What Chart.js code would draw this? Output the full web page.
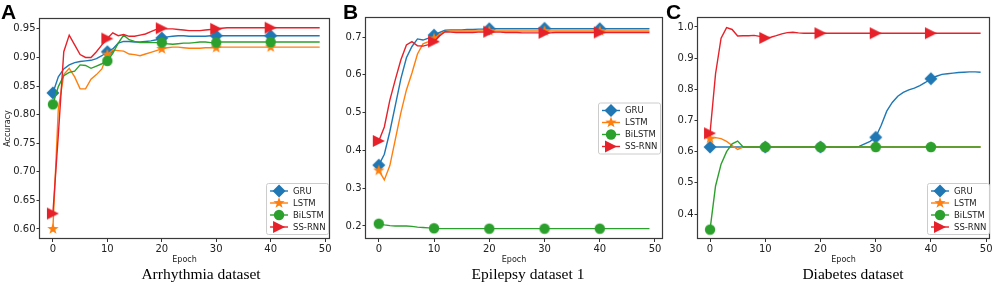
<!DOCTYPE html>
<html><head><meta charset="utf-8">
<script src="https://cdn.jsdelivr.net/npm/chart.js@4.4.0/dist/chart.umd.min.js"></script>
<style>
html,body{margin:0;padding:0;background:#fff;width:996px;height:286px;overflow:hidden;position:relative;}
.panel{position:absolute;top:0;}
canvas{display:block;}
.letter{position:absolute;top:1px;font:bold 21px/21px "Liberation Sans",Arial,sans-serif;color:#000;}
.dtitle{position:absolute;top:266px;font:15.5px/16px "Liberation Serif","Times New Roman",serif;color:#000;white-space:nowrap;transform:translateX(-50%);}
</style></head><body>
<div class="panel" style="left:0px"><canvas id="cA" width="333" height="270"></canvas></div>
<div class="panel" style="left:335px"><canvas id="cB" width="335" height="270"></canvas></div>
<div class="panel" style="left:665px"><canvas id="cC" width="331" height="270"></canvas></div>
<div class="letter" style="left:1px">A</div>
<div class="letter" style="left:343px">B</div>
<div class="letter" style="left:666px">C</div>
<div class="dtitle" id="tA" style="left:201px"></div>
<div class="dtitle" id="tB" style="left:528px"></div>
<div class="dtitle" id="tC" style="left:853px"></div>
<script>
// ---------- data ----------
const epochs = [0,1,2,3,4,5,6,7,8,9,10,11,12,13,14,15,16,17,18,19,20,21,22,23,24,25,26,27,28,29,30,31,32,33,34,35,36,37,38,39,40,41,42,43,44,45,46,47,48,49];
const seriesNames = ['GRU','LSTM','BiLSTM','SS-RNN'];
const panelTitles = ['Arrhythmia dataset','Epilepsy dataset 1','Diabetes dataset'];
const xTicks = [0,10,20,30,40,50];
const yTicksA = [0.60,0.65,0.70,0.75,0.80,0.85,0.90,0.95];
const yTicksB = [0.2,0.3,0.4,0.5,0.6,0.7];
const yTicksC = [0.4,0.5,0.6,0.7,0.8,0.9,1.0];

// Panel A - Arrhythmia
const gruA = [0.838,0.866,0.880,0.887,0.891,0.893,0.894,0.895,0.898,0.903,
  0.910,0.915,0.925,0.928,0.928,0.927,0.927,0.928,0.929,0.931,
  0.934,0.936,0.937,0.938,0.938,0.937,0.937,0.937,0.937,0.938,
  0.938,0.938,0.938,0.938,0.938,0.938,0.938,0.938,0.938,0.938,
  0.938,0.938,0.938,0.938,0.938,0.938,0.938,0.938,0.938,0.938];
const lstmA = [0.600,0.810,0.870,0.881,0.866,0.845,0.845,0.862,0.870,0.880,
  0.905,0.913,0.912,0.911,0.906,0.905,0.903,0.906,0.909,0.912,
  0.915,0.917,0.918,0.918,0.917,0.916,0.916,0.916,0.917,0.917,
  0.917,0.918,0.918,0.918,0.918,0.918,0.918,0.918,0.918,0.918,
  0.918,0.918,0.918,0.918,0.918,0.918,0.918,0.918,0.918,0.918];
const bilstmA = [0.818,0.849,0.868,0.874,0.876,0.887,0.886,0.881,0.885,0.889,
  0.894,0.907,0.925,0.939,0.931,0.928,0.926,0.926,0.926,0.926,
  0.926,0.924,0.923,0.924,0.925,0.925,0.926,0.927,0.927,0.926,
  0.926,0.927,0.927,0.927,0.927,0.927,0.927,0.927,0.927,0.927,
  0.927,0.927,0.927,0.927,0.927,0.927,0.927,0.927,0.927,0.927];
const ssrnnA = [0.627,0.765,0.910,0.939,0.922,0.905,0.900,0.900,0.910,0.922,
  0.933,0.943,0.938,0.940,0.937,0.937,0.939,0.941,0.945,0.949,
  0.951,0.950,0.950,0.949,0.948,0.947,0.947,0.947,0.948,0.949,
  0.950,0.951,0.952,0.952,0.952,0.952,0.952,0.952,0.952,0.952,
  0.952,0.952,0.952,0.952,0.952,0.952,0.952,0.952,0.952,0.952];

// Panel B - Epilepsy 1
const gruB = [0.361,0.390,0.450,0.520,0.590,0.645,0.675,0.695,0.692,0.697,
  0.705,0.712,0.718,0.719,0.719,0.719,0.720,0.720,0.721,0.721,
  0.722,0.722,0.722,0.722,0.722,0.722,0.722,0.722,0.722,0.722,
  0.723,0.722,0.722,0.722,0.722,0.722,0.722,0.722,0.722,0.722,
  0.722,0.722,0.722,0.722,0.722,0.722,0.722,0.722,0.722,0.722];
const lstmB = [0.347,0.322,0.360,0.430,0.500,0.560,0.605,0.655,0.682,0.688,
  0.696,0.708,0.715,0.716,0.716,0.716,0.716,0.716,0.716,0.716,
  0.716,0.716,0.716,0.716,0.716,0.716,0.716,0.716,0.716,0.716,
  0.716,0.716,0.716,0.716,0.716,0.716,0.716,0.716,0.716,0.716,
  0.716,0.716,0.716,0.716,0.716,0.716,0.716,0.716,0.716,0.716];
const bilstmB = [0.206,0.203,0.201,0.200,0.200,0.200,0.199,0.197,0.196,0.195,
  0.194,0.193,0.193,0.193,0.193,0.193,0.193,0.193,0.193,0.193,
  0.193,0.193,0.193,0.193,0.193,0.193,0.193,0.193,0.193,0.193,
  0.193,0.193,0.193,0.193,0.193,0.193,0.193,0.193,0.193,0.193,
  0.193,0.193,0.193,0.193,0.193,0.193,0.193,0.193,0.193,0.193];
const ssrnnB = [0.425,0.462,0.533,0.588,0.640,0.679,0.688,0.677,0.676,0.680,
  0.688,0.703,0.714,0.713,0.712,0.712,0.712,0.712,0.713,0.713,
  0.714,0.713,0.713,0.712,0.712,0.712,0.711,0.711,0.711,0.711,
  0.711,0.711,0.712,0.712,0.712,0.712,0.712,0.712,0.712,0.712,
  0.712,0.712,0.712,0.712,0.712,0.712,0.712,0.712,0.712,0.712];

// Panel C - Diabetes
const gruC = [0.615,0.615,0.615,0.615,0.615,0.615,0.615,0.615,0.615,0.615,
  0.615,0.615,0.615,0.615,0.615,0.615,0.615,0.615,0.615,0.615,
  0.615,0.615,0.615,0.614,0.614,0.614,0.615,0.617,0.625,0.633,
  0.646,0.685,0.730,0.758,0.778,0.790,0.798,0.804,0.812,0.822,
  0.834,0.842,0.848,0.850,0.852,0.854,0.855,0.856,0.856,0.855];
const lstmC = [0.642,0.645,0.642,0.633,0.620,0.607,0.615,0.615,0.615,0.615,
  0.615,0.615,0.615,0.615,0.615,0.615,0.615,0.615,0.615,0.615,
  0.615,0.615,0.615,0.615,0.615,0.615,0.615,0.615,0.615,0.615,
  0.615,0.615,0.615,0.615,0.615,0.615,0.615,0.615,0.615,0.615,
  0.615,0.615,0.615,0.615,0.615,0.615,0.615,0.615,0.615,0.615];
const bilstmC = [0.350,0.490,0.560,0.600,0.625,0.634,0.615,0.615,0.615,0.615,
  0.615,0.615,0.615,0.615,0.615,0.615,0.615,0.615,0.615,0.615,
  0.615,0.615,0.615,0.615,0.615,0.615,0.615,0.615,0.615,0.615,
  0.615,0.615,0.615,0.615,0.615,0.615,0.615,0.615,0.615,0.615,
  0.615,0.615,0.615,0.615,0.615,0.615,0.615,0.615,0.615,0.615];
const ssrnnC = [0.659,0.850,0.964,0.998,0.992,0.971,0.972,0.972,0.973,0.970,
  0.965,0.967,0.972,0.978,0.982,0.983,0.981,0.980,0.980,0.980,
  0.980,0.980,0.980,0.980,0.980,0.980,0.980,0.980,0.980,0.980,
  0.980,0.980,0.980,0.980,0.980,0.980,0.980,0.980,0.980,0.980,
  0.980,0.980,0.980,0.980,0.980,0.980,0.980,0.980,0.980,0.980];

// ---------- styles ----------
const colors = ['#1f77b4','#ff7f0e','#2ca02c','#e62129'];
const markerKinds = ['diamond','star','circle','tri'];
const markerSizes = [6.5,6,5.2,6];

function drawMarker(g, kind, x, y, s, color) {
  g.fillStyle = color;
  g.beginPath();
  if (kind === 'diamond') { g.moveTo(x, y - s); g.lineTo(x + s, y); g.lineTo(x, y + s); g.lineTo(x - s, y); }
  else if (kind === 'circle') { g.arc(x, y, s, 0, Math.PI * 2); }
  else if (kind === 'tri') { g.moveTo(x + s, y); g.lineTo(x - s, y - s); g.lineTo(x - s, y + s); }
  else if (kind === 'star') {
    for (let k = 0; k < 10; k++) {
      const r = (k % 2) ? s * 0.40 : s;
      const a = -Math.PI / 2 + k * Math.PI / 5;
      const px = x + r * Math.cos(a), py = y + r * Math.sin(a);
      if (k) g.lineTo(px, py); else g.moveTo(px, py);
    }
  }
  g.closePath(); g.fill();
}
function markerCanvas(kind, s, color) {
  const size = Math.ceil(s) * 2 + 4;
  const c = document.createElement('canvas'); c.width = size; c.height = size;
  drawMarker(c.getContext('2d'), kind, size / 2, size / 2, s, color);
  return c;
}
const markerImgs = markerKinds.map((k, i) => markerCanvas(k, markerSizes[i], colors[i]));

const framePlugin = {
  id: 'frame',
  afterDatasetsDraw(chart) {
    const {ctx, chartArea: a} = chart;
    ctx.save();
    ctx.strokeStyle = '#3a3a3a'; ctx.lineWidth = 1.2;
    ctx.strokeRect(Math.round(a.left) + 0.5, Math.round(a.top) + 0.5, Math.round(a.right - a.left) - 1, Math.round(a.bottom - a.top) - 1);
    ctx.restore();
  }
};
const legendPlugin = {
  id: 'mplLegend',
  afterDatasetsDraw(chart, args, opts) {
    const {ctx, chartArea: a} = chart;
    const w = 62, h = 51;
    const x = a.right - w - opts.mr;
    const y = opts.loc === 'center' ? (a.top + a.bottom) / 2 - h / 2 : a.bottom - h - opts.mb;
    ctx.save();
    ctx.fillStyle = 'rgba(255,255,255,0.85)';
    ctx.strokeStyle = '#cccccc'; ctx.lineWidth = 1;
    ctx.beginPath();
    if (ctx.roundRect) ctx.roundRect(x + 0.5, y + 0.5, w, h, 2); else ctx.rect(x + 0.5, y + 0.5, w, h);
    ctx.fill(); ctx.stroke();
    ctx.font = '8.5px "DejaVu Sans", sans-serif';
    ctx.textBaseline = 'middle'; ctx.textAlign = 'left';
    chart.data.datasets.forEach((ds, i) => {
      const cy = y + 8 + i * 12;
      ctx.strokeStyle = colors[i]; ctx.lineWidth = 1.4;
      ctx.beginPath(); ctx.moveTo(x + 4, cy); ctx.lineTo(x + 22, cy); ctx.stroke();
      drawMarker(ctx, markerKinds[i], x + 13, cy, markerSizes[i], colors[i]);
      ctx.fillStyle = '#222';
      ctx.fillText(seriesNames[i], x + 27, cy + 0.5);
    });
    ctx.restore();
  }
};

function makePanel(id, series, yTicks, yMin, yMax, xMin, xMax, dec, yTitle, legendOpts, pad, yWidth) {
  const datasets = series.map((vals, i) => ({
    label: seriesNames[i],
    data: vals.map((v, k) => ({x: epochs[k], y: v})),
    borderColor: colors[i],
    backgroundColor: colors[i],
    borderWidth: 1.4,
    tension: 0,
    fill: false,
    order: 3 - i,
    pointStyle: markerImgs[i],
    pointRadius: c => (epochs[c.dataIndex] % 10 === 0 ? 5 : 0),
    pointHoverRadius: 0,
    pointBorderWidth: 0
  }));
  return new Chart(document.getElementById(id), {
    type: 'line',
    data: {datasets},
    plugins: [framePlugin, legendPlugin],
    options: {
      responsive: false, animation: false, events: [],
      layout: {autoPadding: false, padding: {left: 0, right: pad.right, top: pad.top, bottom: 0}},
      plugins: {legend: {display: false}, tooltip: {enabled: false}, mplLegend: legendOpts},
      scales: {
        x: {
          type: 'linear', min: xMin, max: xMax,
          afterBuildTicks: s => { s.ticks = xTicks.map(v => ({value: v})); },
          afterFit: s => { s.height = 31; },
          grid: {drawOnChartArea: false, drawTicks: true, tickLength: 3, color: '#333', lineWidth: 1},
          border: {display: false},
          ticks: {padding: 1.5, color: '#222', font: {family: 'DejaVu Sans', size: 10}, maxRotation: 0, callback: v => String(v)},
          title: {display: true, text: 'Epoch', color: '#222', font: {family: 'DejaVu Sans', size: 8}, padding: {top: 0, bottom: 5}}
        },
        y: {
          type: 'linear', min: yMin, max: yMax,
          afterBuildTicks: s => { s.ticks = yTicks.map(v => ({value: v})); },
          afterFit: s => { s.width = yWidth; },
          grid: {drawOnChartArea: false, drawTicks: true, tickLength: 2.5, color: '#333', lineWidth: 1},
          border: {display: false},
          ticks: {padding: 1, color: '#222', font: {family: 'DejaVu Sans', size: 10}, callback: v => Number(v).toFixed(dec)},
          title: {display: !!yTitle, text: yTitle || '', color: '#222', font: {family: 'DejaVu Sans', size: 8}, padding: {top: 3.5, bottom: 0}}
        }
      }
    }
  });
}

makePanel('cA', [gruA, lstmA, bilstmA, ssrnnA], yTicksA, 0.5825, 0.969, -2.55, 50.9, 2, 'Accuracy', {loc: 'lower', mr: 2, mb: 5}, {right: 0, top: 18}, 39);
makePanel('cB', [gruB, lstmB, bilstmB, ssrnnB], yTicksB, 0.1656, 0.753, -2.5, 51.45, 1, '', {loc: 'center', mr: 3, mb: 0}, {right: 7, top: 17}, 30);
makePanel('cC', [gruC, lstmC, bilstmC, ssrnnC], yTicksC, 0.3199, 1.032, -2.36, 50.7, 1, '', {loc: 'lower', mr: 1, mb: 5}, {right: 6, top: 17}, 32);

document.getElementById('tA').textContent = panelTitles[0];
document.getElementById('tB').textContent = panelTitles[1];
document.getElementById('tC').textContent = panelTitles[2];
</script>
</body></html>
